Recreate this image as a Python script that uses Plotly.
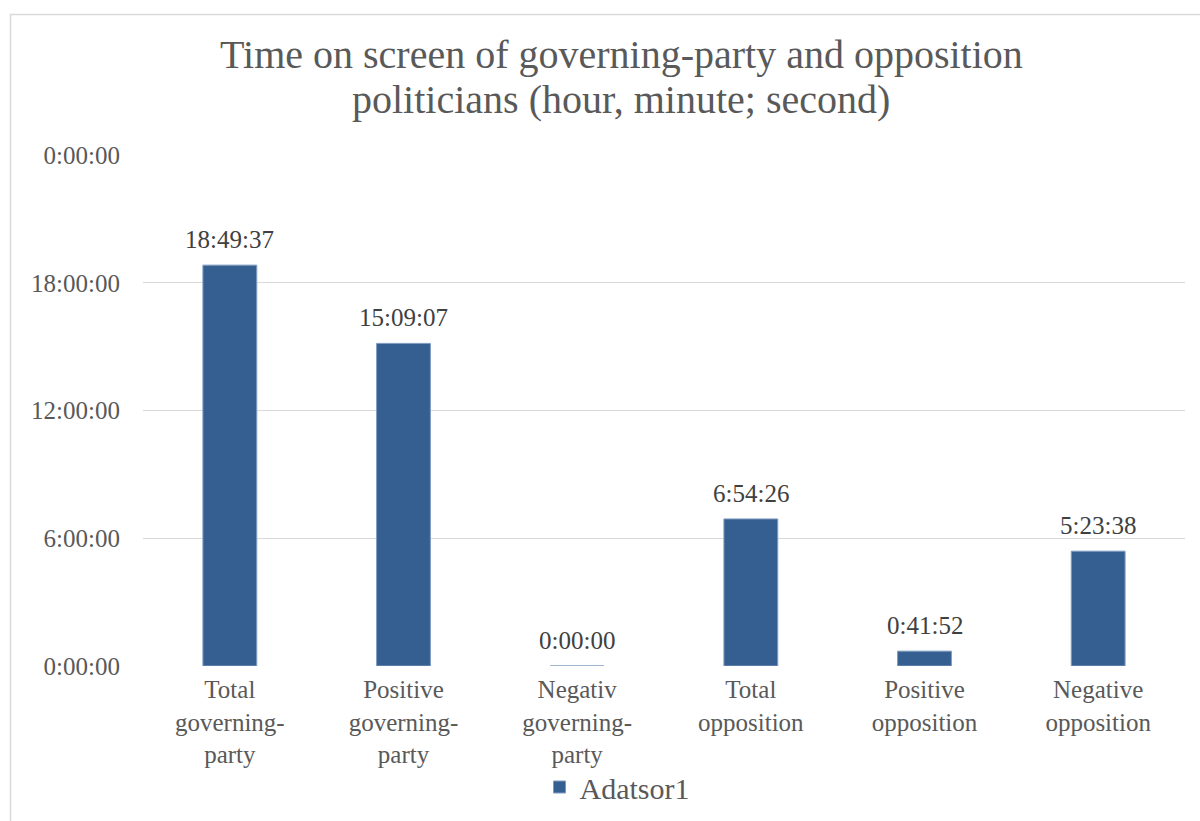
import plotly.graph_objects as go

categories = ["Total<br>governing-<br>party", "Positive<br>governing-<br>party", "Negativ<br>governing-<br>party",
              "Total<br>opposition", "Positive<br>opposition", "Negative<br>opposition"]
durations = ["18:49:37", "15:09:07", "0:00:00", "6:54:26", "0:41:52", "5:23:38"]
tick_hours = [0, 6, 12, 18, 24]
tick_labels = ["0:00:00", "6:00:00", "12:00:00", "18:00:00", "0:00:00"]
series_name = "Adatsor1"
title_lines = ["Time on screen of governing-party and opposition", "politicians (hour, minute; second)"]


def to_hours(s):
    h, m, sec = (int(p) for p in s.split(":"))
    return h + m / 60 + sec / 3600


values = [to_hours(d) for d in durations]

FONT = "Liberation Serif"
BAR = "#365F91"

fig = go.Figure()
fig.add_trace(go.Bar(
    x=categories, y=values, name=series_name,
    marker=dict(color=BAR, line=dict(color="#7F9CC0", width=1)),
    width=0.31, showlegend=True,
))

for c, v, d in zip(categories, values, durations):
    fig.add_annotation(x=c, y=v, text=d, showarrow=False, xref="x", yref="y",
                       yanchor="bottom", yshift=10,
                       font=dict(family=FONT, size=25, color="#404040"))

for i, (line, ypx) in enumerate(zip(title_lines, [54, 100])):
    fig.add_annotation(x=(621 - 143) / 1042, y=(666 - ypx) / 511, xref="paper", yref="paper",
                       text=line, showarrow=False, xanchor="center", yanchor="middle",
                       font=dict(family=FONT, size=40, color="#595959"))

# outer chart frame
fig.add_shape(type="rect", xref="paper", yref="paper",
              x0=(10.5 - 143) / 1042, x1=(1260 - 143) / 1042,
              y0=(666 - 840) / 511, y1=(666 - 14.5) / 511,
              line=dict(color="#D9D9D9", width=1.5), layer="below")

fig.update_layout(
    width=1200, height=821,
    margin=dict(l=143, r=15, t=155, b=155),
    paper_bgcolor="white", plot_bgcolor="white",
    font=dict(family=FONT, size=25, color="#595959"),
    showlegend=True,
    legend=dict(orientation="h", xref="container", yref="container",
                x=617 / 1200, xanchor="center",
                y=1 - 787 / 821, yanchor="middle",
                bgcolor="rgba(0,0,0,0)",
                font=dict(family=FONT, size=30, color="#595959"),
                itemwidth=30),
    bargap=0.69,
)
fig.update_xaxes(showgrid=False, showline=False, ticks="", tickfont=dict(size=25, color="#595959"),
                 tickangle=0, automargin=False, ticklabelstandoff=6)
fig.update_yaxes(range=[0, 24], tickvals=tick_hours, ticktext=tick_labels,
                 showgrid=True, gridcolor="#D9D9D9", gridwidth=1.3, zeroline=False,
                 showline=False, ticks="", ticklabelstandoff=22, automargin=False,
                 tickfont=dict(size=25, color="#595959"))

fig.write_html("out.html")
